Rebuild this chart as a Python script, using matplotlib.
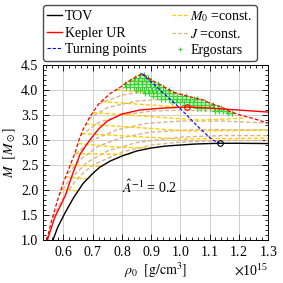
import matplotlib
matplotlib.use("Agg")
import matplotlib.pyplot as plt
from matplotlib.ticker import MultipleLocator, ScalarFormatter

plt.rcParams["font.family"] = ["Liberation Serif", "DejaVu Serif"]
plt.rcParams["mathtext.fontset"] = "stix"
plt.rcParams["font.size"] = 10

RHO_UNIT = 1e15

# non-rotating sequence
tov_rho = [0.564, 0.580, 0.605, 0.635, 0.667, 0.700, 0.725, 0.760, 0.800, 0.850,
           0.900, 0.950, 1.000, 1.050, 1.100, 1.136, 1.200, 1.300]
tov_m = [1.00, 1.25, 1.54, 1.85, 2.13, 2.33, 2.46, 2.58, 2.68, 2.78,
         2.84, 2.88, 2.90, 2.92, 2.93, 2.935, 2.935, 2.93]

# uniformly rotating Kepler limit
kepler_rho = [0.545, 0.570, 0.605, 0.630, 0.657, 0.690, 0.720, 0.750, 0.800, 0.860,
              0.940, 1.023, 1.100, 1.200, 1.300]
kepler_m = [1.00, 1.45, 1.87, 2.30, 2.72, 3.00, 3.22, 3.38, 3.52, 3.60,
            3.64, 3.66, 3.64, 3.60, 3.56]

# mass-shedding boundary of the differentially rotating models
shed_rho = [0.543, 0.560, 0.580, 0.600, 0.620, 0.640, 0.653, 0.666, 0.690, 0.720,
            0.760, 0.800, 0.830, 0.869, 0.895, 0.920, 0.945, 0.975, 1.010, 1.050,
            1.080, 1.100, 1.140, 1.170, 1.205, 1.250, 1.300]
shed_m = [1.00, 1.40, 1.80, 2.15, 2.45, 2.75, 3.00, 3.20, 3.46, 3.72,
          3.93, 4.08, 4.20, 4.33, 4.22, 4.14, 4.06, 3.96, 3.90, 3.84,
          3.80, 3.74, 3.66, 3.57, 3.50, 3.43, 3.34]

turn_rho = [0.869, 0.940, 1.000, 1.060, 1.110, 1.136]
turn_m = [4.33, 3.95, 3.63, 3.27, 3.00, 2.935]

max_tov = (1.136, 2.935)
max_kepler = (1.023, 3.66)

# constant rest mass sequences
m0_rho = [
    [0.590, 0.650],
    [0.606, 0.683],
    [0.622, 0.735],
    [0.638, 0.830],
    [0.650, 0.780, 0.900],
    [0.662, 1.000, 1.300],
    [0.675, 1.030, 1.300],
    [0.700, 1.070, 1.220],
    [0.730, 1.000, 1.120],
    [0.780, 0.970, 1.000],
    [0.830, 0.890, 0.905],
]
m0_m = [
    [2.02, 1.98],
    [2.26, 2.22],
    [2.50, 2.47],
    [2.73, 2.71],
    [2.93, 2.86, 2.84],
    [3.13, 3.02, 3.04],
    [3.32, 3.18, 3.20],
    [3.55, 3.40, 3.44],
    [3.77, 3.66, 3.70],
    [4.00, 3.92, 3.93],
    [4.20, 4.17, 4.19],
]

# constant angular momentum sequences
j_rho = [
    [0.565, 0.600, 0.650, 0.700, 0.800, 0.900, 1.000, 1.150, 1.300],
    [0.585, 0.620, 0.680, 0.750, 0.850, 1.000, 1.150, 1.300],
    [0.615, 0.660, 0.720, 0.800, 0.900, 1.050, 1.300],
    [0.640, 0.700, 0.780, 0.880, 1.000, 1.150, 1.300],
    [0.660, 0.720, 0.800, 0.900, 1.000, 1.170],
    [0.685, 0.750, 0.850, 0.950, 1.070],
    [0.720, 0.800, 0.900, 0.975],
    [0.780, 0.850, 0.910],
]
j_m = [
    [1.45, 1.85, 2.25, 2.50, 2.76, 2.90, 2.96, 2.99, 2.99],
    [1.90, 2.20, 2.55, 2.78, 2.95, 3.06, 3.09, 3.09],
    [2.33, 2.62, 2.88, 3.05, 3.16, 3.21, 3.20],
    [2.72, 3.00, 3.20, 3.33, 3.38, 3.38, 3.34],
    [3.10, 3.35, 3.50, 3.58, 3.60, 3.57],
    [3.42, 3.65, 3.78, 3.82, 3.80],
    [3.72, 3.90, 3.99, 3.96],
    [4.00, 4.13, 4.17],
]

# ergostar models, one row per mass level
ergo_rows_m = [4.30, 4.24, 4.18, 4.12, 4.06, 4.00, 3.94, 3.88, 3.82, 3.76, 3.70, 3.64, 3.58, 3.54]
ergo_rows_rho = [
    [0.862, 0.876],
    [0.846, 0.860, 0.874, 0.888],
    [0.828, 0.842, 0.856, 0.870, 0.884, 0.898],
    [0.812, 0.826, 0.840, 0.854, 0.868, 0.882, 0.896, 0.910, 0.924],
    [0.814, 0.828, 0.842, 0.856, 0.870, 0.884, 0.898, 0.912, 0.926, 0.940],
    [0.848, 0.862, 0.876, 0.890, 0.904, 0.918, 0.932, 0.946, 0.960],
    [0.878, 0.892, 0.906, 0.920, 0.934, 0.948, 0.962, 0.976],
    [0.906, 0.920, 0.934, 0.948, 0.962, 0.976, 0.990, 1.004, 1.018],
    [0.934, 0.948, 0.962, 0.976, 0.990, 1.004, 1.018, 1.032, 1.046, 1.058],
    [0.972, 0.986, 1.000, 1.014, 1.028, 1.042, 1.056, 1.070, 1.084],
    [1.014, 1.028, 1.042, 1.056, 1.070, 1.084, 1.098, 1.112],
    [1.058, 1.072, 1.086, 1.100, 1.114, 1.128, 1.140],
    [1.118, 1.132, 1.146, 1.160],
    [1.162, 1.176],
]

YELLOW = "#ffcc00"
TAN = "#d9b48a"
GREEN = "#33d633"
DASH = (0, (3, 1.6))


def scaled(vals):
    return [v * RHO_UNIT for v in vals]


fig = plt.figure(figsize=(2.83, 2.83), dpi=100)
ax = fig.add_axes([0.152, 0.152, 0.795, 0.618])

for r, m in zip(j_rho, j_m):
    ax.plot(scaled(r), m, color=TAN, lw=1.0, ls=DASH, zorder=2)
for r, m in zip(m0_rho, m0_m):
    ax.plot(scaled(r), m, color=YELLOW, lw=1.0, ls=DASH, zorder=2.1)

for m, row in zip(ergo_rows_m, ergo_rows_rho):
    ax.plot(scaled(row), [m] * len(row), ls="none", marker="+", ms=4.5, mew=0.9,
            color=GREEN, zorder=3)

ax.plot(scaled(tov_rho), tov_m, color="black", lw=1.0, zorder=4)
ax.plot(scaled(kepler_rho), kepler_m, color="red", lw=1.0, zorder=4)
ax.plot(scaled(shed_rho), shed_m, color="red", lw=0.9, ls=DASH, zorder=4)
ax.plot(scaled(turn_rho), turn_m, color="blue", lw=0.8, ls=DASH, zorder=4)
ax.plot(max_tov[0] * RHO_UNIT, max_tov[1], marker="o", ms=4, mfc="none", mec="black",
        mew=0.8, zorder=5)
ax.plot(max_kepler[0] * RHO_UNIT, max_kepler[1], marker="o", ms=4, mfc="none", mec="red",
        mew=0.8, zorder=5)

# legend handles
h_tov, = ax.plot([], [], color="black", lw=1.0)
h_kep, = ax.plot([], [], color="red", lw=1.0)
h_turn, = ax.plot([], [], color="blue", lw=0.8, ls=DASH)
h_m0, = ax.plot([], [], color=YELLOW, lw=0.9, ls=DASH)
h_j, = ax.plot([], [], color=TAN, lw=0.9, ls=DASH)
h_ergo, = ax.plot([], [], ls="none", marker="+", ms=3, mew=0.7, color=GREEN)

fig.legend([h_tov, h_kep, h_turn, h_m0, h_j, h_ergo],
           ["TOV", "Kepler UR", "Turning points", "$M_0$ =const.", "$J$ =const.", "Ergostars"],
           ncol=2, loc="upper left", bbox_to_anchor=(0.152, 0.79, 0.756, 0.192),
           mode="expand", borderaxespad=0,
           handlelength=1.1, handletextpad=0.2, columnspacing=1.3, labelspacing=0.25,
           borderpad=0.3, frameon=True, fancybox=True, edgecolor="0.3", framealpha=1.0)

ax.text(0.895 * RHO_UNIT, 2.05, r"$\hat{A}^{-1}$ = 0.2", ha="center", va="center")

ax.set_xlim(0.53 * RHO_UNIT, 1.3 * RHO_UNIT)
ax.set_ylim(1.0, 4.5)
ax.xaxis.set_major_locator(MultipleLocator(0.1 * RHO_UNIT))
ax.xaxis.set_minor_locator(MultipleLocator(0.02 * RHO_UNIT))
ax.yaxis.set_major_locator(MultipleLocator(0.5))
ax.yaxis.set_minor_locator(MultipleLocator(0.1))
fmt = ScalarFormatter(useMathText=True)
fmt.set_powerlimits((0, 0))
ax.xaxis.set_major_formatter(fmt)
ax.yaxis.set_major_formatter(plt.FormatStrFormatter("%.1f"))
ax.tick_params(which="both", direction="in", top=True, right=True, width=0.6)
ax.tick_params(which="major", length=4)
ax.tick_params(which="minor", length=2)
ax.grid(True, which="major", color="0.78", lw=0.6, zorder=0)
ax.set_axisbelow(True)
for s in ax.spines.values():
    s.set_linewidth(0.7)

ax.set_xlabel(r"$\rho_0\ \ [\mathrm{g/cm^3}]$", labelpad=1)
ax.set_ylabel(r"$M\ \ [M_\odot]$", labelpad=2)

fig.savefig("out.png", dpi=100)
